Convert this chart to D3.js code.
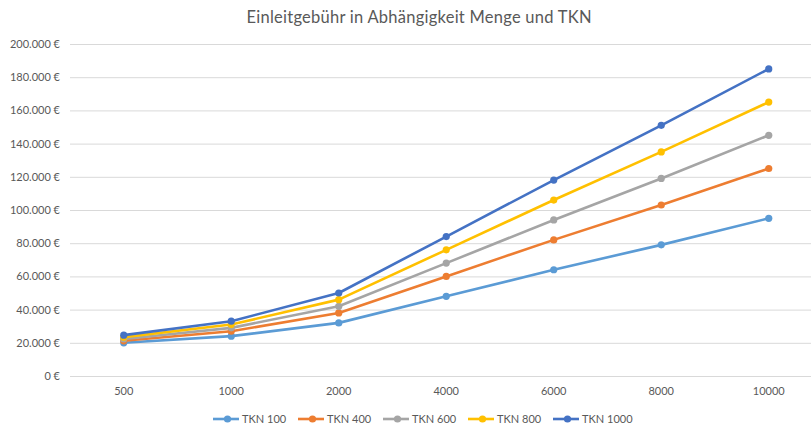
<!DOCTYPE html>
<html>
<head>
<meta charset="utf-8">
<script src="https://cdn.jsdelivr.net/npm/d3@7"></script>
<style>
  body { margin: 0; background: #fff; }
  svg { display: block; font-family: Lato, "Open Sans", sans-serif; }
</style>
</head>
<body>
<div id="chart"></div>
<script>
// data
var mengen = ['500', '1000', '2000', '4000', '6000', '8000', '10000'];
var tkn100 = [20000, 24000, 32000, 48000, 64000, 79000, 95000];
var tkn400 = [21200, 27000, 38000, 60000, 82000, 103000, 125000];
var tkn600 = [22300, 29000, 42000, 68000, 94000, 119000, 145000];
var tkn800 = [23400, 31000, 46000, 76000, 106000, 135000, 165000];
var tkn1000 = [24600, 33000, 50000, 84000, 118000, 151000, 185000];
var yTicks = [0, 20000, 40000, 60000, 80000, 100000, 120000, 140000, 160000, 180000, 200000];

var series = [
  { name: 'TKN 100', values: tkn100, color: '#5B9BD5' },
  { name: 'TKN 400', values: tkn400, color: '#ED7D31' },
  { name: 'TKN 600', values: tkn600, color: '#A5A5A5' },
  { name: 'TKN 800', values: tkn800, color: '#FFC000' },
  { name: 'TKN 1000', values: tkn1000, color: '#4472C4' }
];

var W = 811, H = 430;
var margin = { top: 44, left: 70, bottom: 54 };
var plotW = 752.5, plotH = H - margin.top - margin.bottom;

var de = d3.formatLocale({ decimal: ',', thousands: '.', grouping: [3], currency: ['', ' €'] });
var euro = de.format('$,.0f');

var svg = d3.select('#chart').append('svg')
  .attr('width', W)
  .attr('height', H);

// title
svg.append('text')
  .attr('x', 419)
  .attr('y', 23)
  .attr('text-anchor', 'middle')
  .attr('textLength', 345)
  .attr('lengthAdjust', 'spacing')
  .style('font-size', '16.5px')
  .style('fill', '#595959')
  .text('Einleitgebühr in Abhängigkeit Menge und TKN');

var g = svg.append('g')
  .attr('transform', 'translate(' + margin.left + ',' + margin.top + ')');

var x = d3.scaleBand().domain(mengen).range([0, plotW]);
var y = d3.scaleLinear().domain([0, 200000]).range([plotH, 0]);

// y axis with gridlines
var yAxis = g.append('g')
  .call(d3.axisLeft(y).tickValues(yTicks).tickSize(-plotW).tickPadding(10).tickFormat(euro));
yAxis.select('.domain').remove();
yAxis.selectAll('line').attr('stroke', '#d9d9d9').attr('stroke-width', 1);
yAxis.selectAll('text')
  .style('font-size', '11px')
  .style('fill', '#595959')
  .style('font-family', 'Lato, sans-serif');

// x axis labels
var xAxis = g.append('g')
  .attr('transform', 'translate(0,' + plotH + ')')
  .call(d3.axisBottom(x).tickSize(0).tickPadding(11));
xAxis.select('.domain').remove();
xAxis.selectAll('text')
  .style('font-size', '11px')
  .style('fill', '#595959')
  .style('font-family', 'Lato, sans-serif');

var line = d3.line()
  .x(function(d, i) { return x(mengen[i]) + x.bandwidth() / 2; })
  .y(function(d) { return y(d); });

var lines = g.append('g').selectAll('g')
  .data(series)
  .enter()
  .append('g');

lines.append('path')
  .attr('d', function(s) { return line(s.values); })
  .attr('fill', 'none')
  .attr('stroke', function(s) { return s.color; })
  .attr('stroke-width', 2.6)
  .attr('stroke-linejoin', 'round');

lines.selectAll('circle')
  .data(function(s) { return s.values.map(function(v, i) { return { v: v, i: i, color: s.color }; }); })
  .enter()
  .append('circle')
  .attr('cx', function(d) { return x(mengen[d.i]) + x.bandwidth() / 2; })
  .attr('cy', function(d) { return y(d.v); })
  .attr('r', 3.6)
  .attr('fill', function(d) { return d.color; });

// legend
var legend = svg.append('g')
  .attr('transform', 'translate(213,419)');

var item = legend.selectAll('g')
  .data(series)
  .enter()
  .append('g')
  .attr('transform', function(d, i) { return 'translate(' + (i * 85) + ',0)'; });

item.append('line')
  .attr('x1', 0).attr('x2', 26)
  .attr('stroke', function(d) { return d.color; })
  .attr('stroke-width', 2.6);
item.append('circle')
  .attr('cx', 14.5)
  .attr('r', 3.6)
  .attr('fill', function(d) { return d.color; });
item.append('text')
  .attr('x', 29)
  .attr('dy', '0.35em')
  .style('font-size', '11px')
  .style('fill', '#595959')
  .text(function(d) { return d.name; });
</script>
</body>
</html>
